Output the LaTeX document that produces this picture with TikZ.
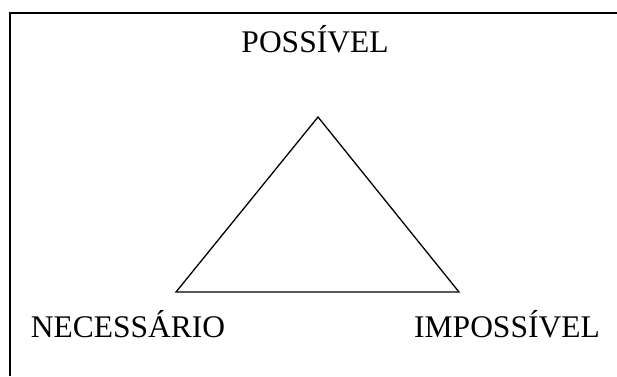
\documentclass[tikz,border=0pt]{standalone}
\usepackage{fontspec}
\setmainfont{Liberation Serif}
\usepackage{tikz}
\usetikzlibrary{positioning}

\begin{document}
\begin{tikzpicture}[
  x=1pt, y=-1pt,
  every node/.style={font=\fontsize{31.5}{37}\selectfont, inner sep=0pt},
  modal/.style={anchor=base},
  frame/.style={line width=2pt},
  side/.style={line width=1.3pt, line join=miter}
]
\useasboundingbox (0,0) rectangle (617,376);

% frame
\draw[frame] (10,376) -- (10,13) -- (617,13);

% labels
\node[modal] (poss) at (315,52) {POSSÍVEL};
\node[modal] (nec) at (128,337) {NECESSÁRIO};
\node[modal] (imp) at (507,337) {IMPOSSÍVEL};

% triangle
\coordinate (top) at (318,117);
\coordinate (left) at (176,292);
\coordinate (right) at (459,292);
\draw[side] (top) -- (right) -- (left) -- cycle;

\end{tikzpicture}
\end{document}
